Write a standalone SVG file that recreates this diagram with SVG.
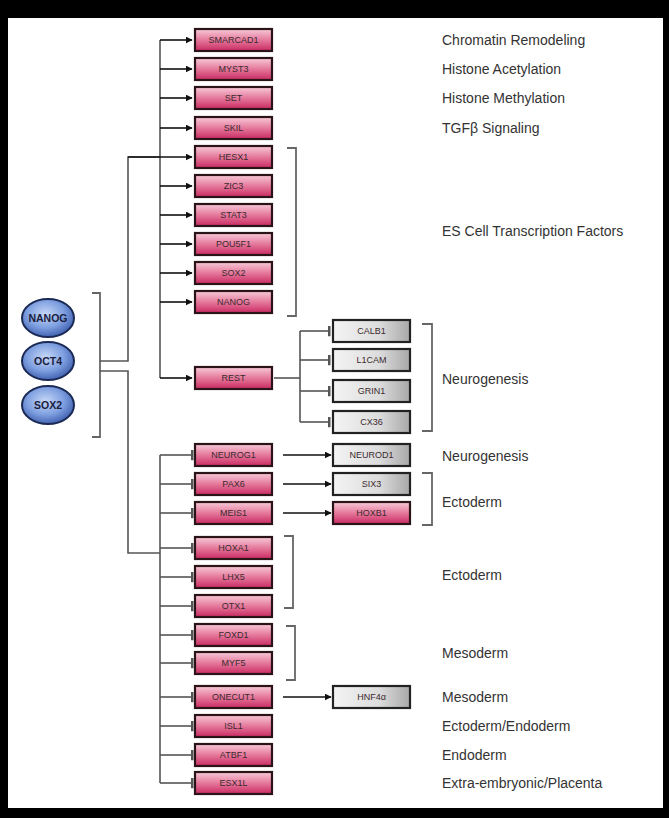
<svg xmlns="http://www.w3.org/2000/svg" width="669" height="818" viewBox="0 0 669 818">
<defs>
<linearGradient id="pink" x1="0" y1="0" x2="0" y2="1">
<stop offset="0" stop-color="#f7cbd9"/>
<stop offset="0.5" stop-color="#e5799c"/>
<stop offset="1" stop-color="#c92a62"/>
</linearGradient>
<linearGradient id="grey" x1="0" y1="0" x2="1" y2="0">
<stop offset="0" stop-color="#f4f4f4"/>
<stop offset="0.6" stop-color="#dcdcdc"/>
<stop offset="1" stop-color="#a8a8a8"/>
</linearGradient>
<radialGradient id="blue" cx="0.45" cy="0.4" r="0.65">
<stop offset="0" stop-color="#c7d8f6"/>
<stop offset="0.55" stop-color="#7e9fe0"/>
<stop offset="1" stop-color="#3656a8"/>
</radialGradient>
<marker id="arr" viewBox="0 0 10 10" refX="9" refY="5" markerWidth="7" markerHeight="7" markerUnits="userSpaceOnUse" orient="auto">
<path d="M0,0 L10,5 L0,10 z" fill="#111"/>
</marker>
<marker id="bar" viewBox="0 0 4 14" refX="2" refY="7" markerWidth="3" markerHeight="11" markerUnits="userSpaceOnUse" orient="auto">
<rect x="0" y="0" width="4" height="14" fill="#555"/>
</marker>
</defs>
<style>
.pk{fill:url(#pink);stroke:#2a1418;stroke-width:2.2}
.gy{fill:url(#grey);stroke:#222;stroke-width:2.2}
.bt{font-family:"Liberation Sans",Arial,sans-serif;font-size:9px;fill:#3a2a2e;text-anchor:middle;dominant-baseline:central}
.lb{font-family:"Liberation Sans",Arial,sans-serif;font-size:14px;fill:#333;dominant-baseline:central}
.ov{fill:url(#blue);stroke:#1b2a55;stroke-width:2}
.ot{font-family:"Liberation Sans",Arial,sans-serif;font-size:10.5px;font-weight:bold;fill:#1a2040;text-anchor:middle;dominant-baseline:central}
.ln{fill:none;stroke:#555;stroke-width:1.6}
.ak{fill:none;stroke:#111;stroke-width:1.6;marker-end:url(#arr)}
.ih{fill:none;stroke:#555;stroke-width:1.6;marker-end:url(#bar)}
.br{fill:none;stroke:#666;stroke-width:1.8}
</style>
<rect x="0" y="0" width="669" height="818" fill="#000"/>
<rect x="8" y="18" width="655" height="790" fill="#fff"/>

<g id="connectors">
<!-- complex bracket -->
<path class="br" d="M92,293 H100 V437 H92"/>
<path class="ln" d="M100,361 H128 V157 H160"/>
<path class="ln" d="M100,371 H128 V553 H160"/>
<!-- upper bus -->
<path class="ln" d="M160,40 V378"/>
<path class="ak" d="M160,40 H192"/>
<path class="ak" d="M160,69 H192"/>
<path class="ak" d="M160,98 H192"/>
<path class="ak" d="M160,128 H192"/>
<path class="ak" d="M128,157 H192"/>
<path class="ak" d="M160,186 H192"/>
<path class="ak" d="M160,215 H192"/>
<path class="ak" d="M160,244 H192"/>
<path class="ak" d="M160,273 H192"/>
<path class="ak" d="M160,302 H192"/>
<path class="ak" d="M160,378 H192"/>
<!-- REST targets -->
<path class="ln" d="M274,378 H300"/>
<path class="ln" d="M300,331 V422"/>
<path class="ih" d="M300,331 H329"/>
<path class="ih" d="M300,360 H329"/>
<path class="ih" d="M300,391 H329"/>
<path class="ih" d="M300,422 H329"/>
<!-- lower bus -->
<path class="ln" d="M160,455 V783"/>
<path class="ih" d="M160,455 H192"/>
<path class="ih" d="M160,484 H192"/>
<path class="ih" d="M160,513 H192"/>
<path class="ih" d="M160,548 H192"/>
<path class="ih" d="M160,577 H192"/>
<path class="ih" d="M160,606 H192"/>
<path class="ih" d="M160,635 H192"/>
<path class="ih" d="M160,663 H192"/>
<path class="ih" d="M160,697 H192"/>
<path class="ih" d="M160,726 H192"/>
<path class="ih" d="M160,755 H192"/>
<path class="ih" d="M160,783 H192"/>
<!-- activations to right -->
<path class="ak" d="M283,455 H331"/>
<path class="ak" d="M283,484 H331"/>
<path class="ak" d="M283,513 H331"/>
<path class="ak" d="M283,697 H331"/>
<!-- brackets -->
<path class="br" d="M287,148 H296 V316 H287"/>
<path class="br" d="M422,324 H432 V431 H422"/>
<path class="br" d="M422,473 H432 V525 H422"/>
<path class="br" d="M284,536 H293 V608 H284"/>
<path class="br" d="M286,626 H295 V680 H286"/>
</g>

<g id="complex">
<g id="n-NANOG"><ellipse class="ov" cx="48" cy="318" rx="26" ry="19"/><text class="ot" x="48" y="318">NANOG</text></g>
<g id="n-OCT4"><ellipse class="ov" cx="48" cy="361" rx="26" ry="19"/><text class="ot" x="48" y="361">OCT4</text></g>
<g id="n-SOX2"><ellipse class="ov" cx="48" cy="405" rx="26" ry="19"/><text class="ot" x="48" y="405">SOX2</text></g>
</g>

<g id="n-SMARCAD1"><rect class="pk" x="195" y="29" width="77" height="22"/><text class="bt" x="233.5" y="40">SMARCAD1</text></g>
<g id="n-MYST3"><rect class="pk" x="195" y="58" width="77" height="22"/><text class="bt" x="233.5" y="69">MYST3</text></g>
<g id="n-SET"><rect class="pk" x="195" y="87" width="77" height="22"/><text class="bt" x="233.5" y="98">SET</text></g>
<g id="n-SKIL"><rect class="pk" x="195" y="117" width="77" height="22"/><text class="bt" x="233.5" y="128">SKIL</text></g>
<g id="n-HESX1"><rect class="pk" x="195" y="146" width="77" height="22"/><text class="bt" x="233.5" y="157">HESX1</text></g>
<g id="n-ZIC3"><rect class="pk" x="195" y="175" width="77" height="22"/><text class="bt" x="233.5" y="186">ZIC3</text></g>
<g id="n-STAT3"><rect class="pk" x="195" y="204" width="77" height="22"/><text class="bt" x="233.5" y="215">STAT3</text></g>
<g id="n-POU5F1"><rect class="pk" x="195" y="233" width="77" height="22"/><text class="bt" x="233.5" y="244">POU5F1</text></g>
<g id="n-SOX2b"><rect class="pk" x="195" y="262" width="77" height="22"/><text class="bt" x="233.5" y="273">SOX2</text></g>
<g id="n-NANOGb"><rect class="pk" x="195" y="291" width="77" height="22"/><text class="bt" x="233.5" y="302">NANOG</text></g>
<g id="n-REST"><rect class="pk" x="195" y="367" width="77" height="22"/><text class="bt" x="233.5" y="378">REST</text></g>

<g id="n-CALB1"><rect class="gy" x="333" y="320" width="77" height="22"/><text class="bt" x="371.5" y="331">CALB1</text></g>
<g id="n-L1CAM"><rect class="gy" x="333" y="349" width="77" height="22"/><text class="bt" x="371.5" y="360">L1CAM</text></g>
<g id="n-GRIN1"><rect class="gy" x="333" y="380" width="77" height="22"/><text class="bt" x="371.5" y="391">GRIN1</text></g>
<g id="n-CX36"><rect class="gy" x="333" y="411" width="77" height="22"/><text class="bt" x="371.5" y="422">CX36</text></g>

<g id="n-NEUROG1"><rect class="pk" x="195" y="444" width="77" height="22"/><text class="bt" x="233.5" y="455">NEUROG1</text></g>
<g id="n-PAX6"><rect class="pk" x="195" y="473" width="77" height="22"/><text class="bt" x="233.5" y="484">PAX6</text></g>
<g id="n-MEIS1"><rect class="pk" x="195" y="502" width="77" height="22"/><text class="bt" x="233.5" y="513">MEIS1</text></g>
<g id="n-HOXA1"><rect class="pk" x="195" y="537" width="77" height="22"/><text class="bt" x="233.5" y="548">HOXA1</text></g>
<g id="n-LHX5"><rect class="pk" x="195" y="566" width="77" height="22"/><text class="bt" x="233.5" y="577">LHX5</text></g>
<g id="n-OTX1"><rect class="pk" x="195" y="595" width="77" height="22"/><text class="bt" x="233.5" y="606">OTX1</text></g>
<g id="n-FOXD1"><rect class="pk" x="195" y="624" width="77" height="22"/><text class="bt" x="233.5" y="635">FOXD1</text></g>
<g id="n-MYF5"><rect class="pk" x="195" y="652" width="77" height="22"/><text class="bt" x="233.5" y="663">MYF5</text></g>
<g id="n-ONECUT1"><rect class="pk" x="195" y="686" width="77" height="22"/><text class="bt" x="233.5" y="697">ONECUT1</text></g>
<g id="n-ISL1"><rect class="pk" x="195" y="715" width="77" height="22"/><text class="bt" x="233.5" y="726">ISL1</text></g>
<g id="n-ATBF1"><rect class="pk" x="195" y="744" width="77" height="22"/><text class="bt" x="233.5" y="755">ATBF1</text></g>
<g id="n-ESX1L"><rect class="pk" x="195" y="772" width="77" height="22"/><text class="bt" x="233.5" y="783">ESX1L</text></g>

<g id="n-NEUROD1"><rect class="gy" x="333" y="444" width="77" height="22"/><text class="bt" x="371.5" y="455">NEUROD1</text></g>
<g id="n-SIX3"><rect class="gy" x="333" y="473" width="77" height="22"/><text class="bt" x="371.5" y="484">SIX3</text></g>
<g id="n-HOXB1"><rect class="pk" x="333" y="502" width="77" height="22"/><text class="bt" x="371.5" y="513">HOXB1</text></g>
<g id="n-HNF4a"><rect class="gy" x="333" y="686" width="77" height="22"/><text class="bt" x="371.5" y="697">HNF4α</text></g>

<g id="labels">
<text class="lb" x="442" y="40">Chromatin Remodeling</text>
<text class="lb" x="442" y="69">Histone Acetylation</text>
<text class="lb" x="442" y="98">Histone Methylation</text>
<text class="lb" x="442" y="128">TGFβ Signaling</text>
<text class="lb" x="442" y="231">ES Cell Transcription Factors</text>
<text class="lb" x="442" y="379">Neurogenesis</text>
<text class="lb" x="442" y="456">Neurogenesis</text>
<text class="lb" x="442" y="502">Ectoderm</text>
<text class="lb" x="442" y="575">Ectoderm</text>
<text class="lb" x="442" y="653">Mesoderm</text>
<text class="lb" x="442" y="697">Mesoderm</text>
<text class="lb" x="442" y="726">Ectoderm/Endoderm</text>
<text class="lb" x="442" y="755">Endoderm</text>
<text class="lb" x="442" y="783">Extra-embryonic/Placenta</text>
</g>
</svg>
